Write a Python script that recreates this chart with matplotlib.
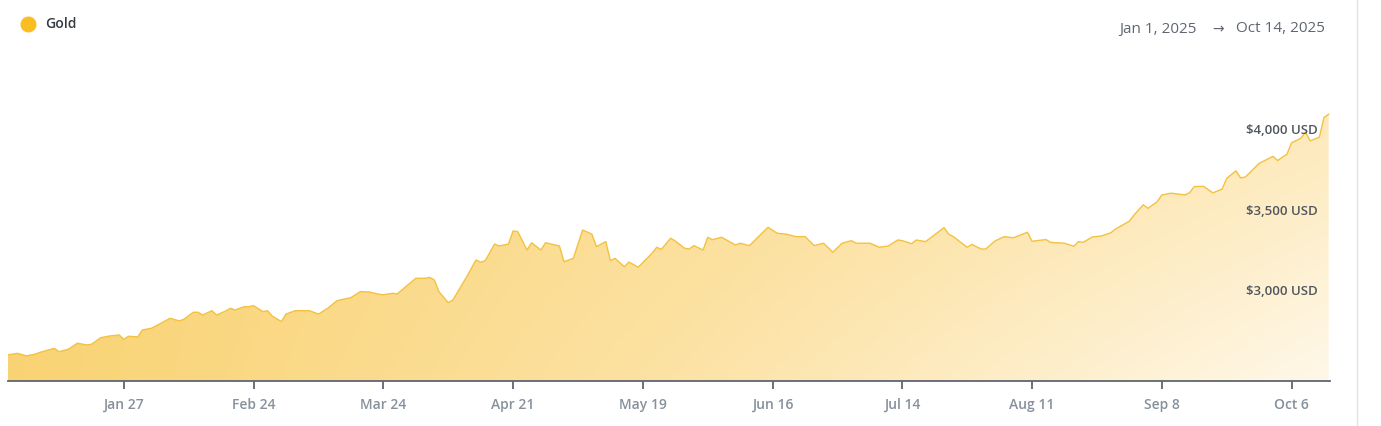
import numpy as np
import pandas as pd
import matplotlib
matplotlib.use("Agg")
import matplotlib.pyplot as plt
import matplotlib.dates as mdates
from matplotlib.colors import LinearSegmentedColormap
from matplotlib.lines import Line2D

##### data #####
dates = [
    "2025-01-02", "2025-01-04", "2025-01-06", "2025-01-08", "2025-01-09", "2025-01-12",
    "2025-01-13", "2025-01-15", "2025-01-17", "2025-01-19", "2025-01-20", "2025-01-22",
    "2025-01-24", "2025-01-26", "2025-01-27", "2025-01-28", "2025-01-30", "2025-01-31",
    "2025-02-02", "2025-02-04", "2025-02-06", "2025-02-08", "2025-02-09", "2025-02-11",
    "2025-02-12", "2025-02-13", "2025-02-15", "2025-02-16", "2025-02-18", "2025-02-19",
    "2025-02-20", "2025-02-22", "2025-02-23", "2025-02-24", "2025-02-26", "2025-02-27",
    "2025-02-28", "2025-03-02", "2025-03-03", "2025-03-05", "2025-03-08", "2025-03-10",
    "2025-03-12", "2025-03-14", "2025-03-17", "2025-03-19", "2025-03-21", "2025-03-23",
    "2025-03-24", "2025-03-26", "2025-03-27", "2025-03-29", "2025-03-31", "2025-04-02",
    "2025-04-03", "2025-04-04", "2025-04-05", "2025-04-07", "2025-04-08", "2025-04-11",
    "2025-04-13", "2025-04-14", "2025-04-15", "2025-04-17", "2025-04-18", "2025-04-20",
    "2025-04-21", "2025-04-22", "2025-04-24", "2025-04-25", "2025-04-27", "2025-04-28",
    "2025-05-01", "2025-05-02", "2025-05-04", "2025-05-06", "2025-05-08", "2025-05-09",
    "2025-05-11", "2025-05-12", "2025-05-13", "2025-05-15", "2025-05-16", "2025-05-18",
    "2025-05-21", "2025-05-22", "2025-05-23", "2025-05-25", "2025-05-26", "2025-05-28",
    "2025-05-29", "2025-05-30", "2025-06-01", "2025-06-02", "2025-06-03", "2025-06-05",
    "2025-06-08", "2025-06-09", "2025-06-11", "2025-06-15", "2025-06-17", "2025-06-19",
    "2025-06-21", "2025-06-23", "2025-06-25", "2025-06-27", "2025-06-29", "2025-07-01",
    "2025-07-03", "2025-07-04", "2025-07-07", "2025-07-09", "2025-07-11", "2025-07-13",
    "2025-07-14", "2025-07-16", "2025-07-17", "2025-07-19", "2025-07-20", "2025-07-23",
    "2025-07-24", "2025-07-25", "2025-07-28", "2025-07-29", "2025-07-31", "2025-08-01",
    "2025-08-03", "2025-08-05", "2025-08-07", "2025-08-10", "2025-08-11", "2025-08-14",
    "2025-08-15", "2025-08-18", "2025-08-20", "2025-08-21", "2025-08-22", "2025-08-24",
    "2025-08-26", "2025-08-28", "2025-08-29", "2025-09-01", "2025-09-02", "2025-09-04",
    "2025-09-05", "2025-09-07", "2025-09-08", "2025-09-10", "2025-09-13", "2025-09-14",
    "2025-09-15", "2025-09-17", "2025-09-19", "2025-09-21", "2025-09-22", "2025-09-24",
    "2025-09-25", "2025-09-26", "2025-09-29", "2025-10-02", "2025-10-03", "2025-10-05",
    "2025-10-06", "2025-10-08", "2025-10-09", "2025-10-10", "2025-10-12", "2025-10-13",
    "2025-10-14",
]
gold_usd = [
    2607, 2617, 2601, 2613, 2624, 2648,
    2627, 2642, 2680, 2669, 2673, 2714,
    2725, 2731, 2704, 2723, 2719, 2762,
    2773, 2804, 2835, 2818, 2830, 2872,
    2872, 2855, 2882, 2855, 2880, 2897,
    2886, 2907, 2907, 2913, 2876, 2882,
    2849, 2814, 2861, 2882, 2882, 2861,
    2897, 2944, 2963, 3000, 2998, 2984,
    2981, 2990, 2986, 3035, 3083, 3083,
    3089, 3073, 3000, 2932, 2948, 3093,
    3197, 3183, 3193, 3296, 3284, 3296,
    3377, 3373, 3259, 3304, 3259, 3304,
    3284, 3186, 3207, 3383, 3358, 3280,
    3311, 3193, 3207, 3155, 3184, 3152,
    3239, 3276, 3263, 3332, 3315, 3270,
    3265, 3286, 3259, 3338, 3323, 3338,
    3290, 3301, 3286, 3400, 3363, 3357,
    3342, 3342, 3286, 3301, 3245, 3301,
    3317, 3301, 3301, 3276, 3284, 3321,
    3317, 3298, 3321, 3311, 3332, 3398,
    3357, 3342, 3276, 3294, 3265, 3265,
    3315, 3342, 3335, 3369, 3313, 3324,
    3306, 3301, 3282, 3311, 3306, 3340,
    3346, 3366, 3389, 3438, 3476, 3540,
    3518, 3559, 3601, 3612, 3601, 3615,
    3653, 3654, 3614, 3637, 3704, 3751,
    3707, 3712, 3797, 3841, 3815, 3854,
    3925, 3953, 3992, 3937, 3960, 4083,
    4102,
]
xtick_dates = ["2025-01-27", "2025-02-24", "2025-03-24", "2025-04-21", "2025-05-19",
               "2025-06-16", "2025-07-14", "2025-08-11", "2025-09-08", "2025-10-06"]
xtick_labels = ["Jan 27", "Feb 24", "Mar 24", "Apr 21", "May 19",
                "Jun 16", "Jul 14", "Aug 11", "Sep 8", "Oct 6"]
ytick_vals = [3000, 3500, 4000]
ytick_labels = ["$3,000 USD", "$3,500 USD", "$4,000 USD"]
series_name = "Gold"
range_start = "Jan 1, 2025"
range_end = "Oct 14, 2025"

plt.rcParams['font.family'] = ['Open Sans', 'DejaVu Sans']

x = pd.to_datetime(dates)
y = np.array(gold_usd, dtype=float)

fig = plt.figure(figsize=(13.81, 4.26), dpi=100)
ax = fig.add_axes([8/1381, 45/426, 1322/1381, 291/426])

ymin, ymax = 2445, 4253
x0 = mdates.date2num(x[0])
x1 = mdates.date2num(pd.Timestamp("2025-10-14 07:00"))
ax.set_xlim(x0, x1)
ax.set_ylim(ymin, ymax)

# gradient fill, clipped to the area under the line
cmap = LinearSegmentedColormap.from_list("gold_fade", ["#F9D373", "#FCE2A4", "#FFF8E9"])
nx, ny = 400, 120
xf = np.linspace(0, 1, nx)[None, :]
yf = np.linspace(0, 1, ny)[:, None]   # 0 = bottom
t = np.clip(xf * (0.62 + 0.38 * (1 - yf)), 0, 1)
img = ax.imshow(t, cmap=cmap, vmin=0, vmax=1, origin="lower", aspect="auto",
                extent=(x0, x1, ymin, ymax), zorder=1, interpolation="bilinear")
area = ax.fill_between(x, y, ymin, facecolor="none", edgecolor="none", zorder=1)
img.set_clip_path(area.get_paths()[0], transform=ax.transData)
ax.plot(x, y, color="#F3C23F", linewidth=1.0, zorder=3, solid_joinstyle="round")

# axes styling
for s in ["top", "right", "left"]:
    ax.spines[s].set_visible(False)
ax.spines["bottom"].set_color("#5E6672")
ax.spines["bottom"].set_linewidth(1.3)
ax.spines["bottom"].set_zorder(4)
ax.set_yticks([])
ax.set_xticks(mdates.date2num(pd.to_datetime(xtick_dates)))
ax.set_xticklabels(xtick_labels)
ax.tick_params(axis="x", length=6, width=1.3, color="#5E6672", pad=6,
               labelsize=10, labelcolor="#87909B")
for lbl in ax.get_xticklabels():
    lbl.set_fontweight("semibold")

# y labels drawn inside the plot on the right
for v, lab in zip(ytick_vals, ytick_labels):
    ax.text(0.9905, v, lab, transform=ax.get_yaxis_transform(), ha="right", va="center",
            fontsize=9.5, color="#50565E", fontweight="semibold", zorder=5)

# legend + date range header
fig.add_artist(Line2D([28/1381], [1 - 24/426], marker="o", markersize=10.5,
                      color="#FBBD22", linestyle="none"))
fig.text(45/1381, 1 - 24/426, series_name, ha="left", va="center", fontsize=10,
         color="#343A40", fontweight="semibold")
hy = 1 - 29/426
fig.text(1197/1381, hy, range_start, ha="right", va="center", fontsize=11, color="#5F6670")
fig.text(1218/1381, hy, "\u2192", ha="center", va="center", fontsize=10, color="#5F6670",
         family=["DejaVu Sans"])
fig.text(1325/1381, hy, range_end, ha="right", va="center", fontsize=11, color="#5F6670")

# thin separator at the right edge
fig.add_artist(Line2D([1356.5/1381, 1356.5/1381], [0, 1], color="#E3E3E3", linewidth=1.0))

fig.savefig("out.png", dpi=100)
